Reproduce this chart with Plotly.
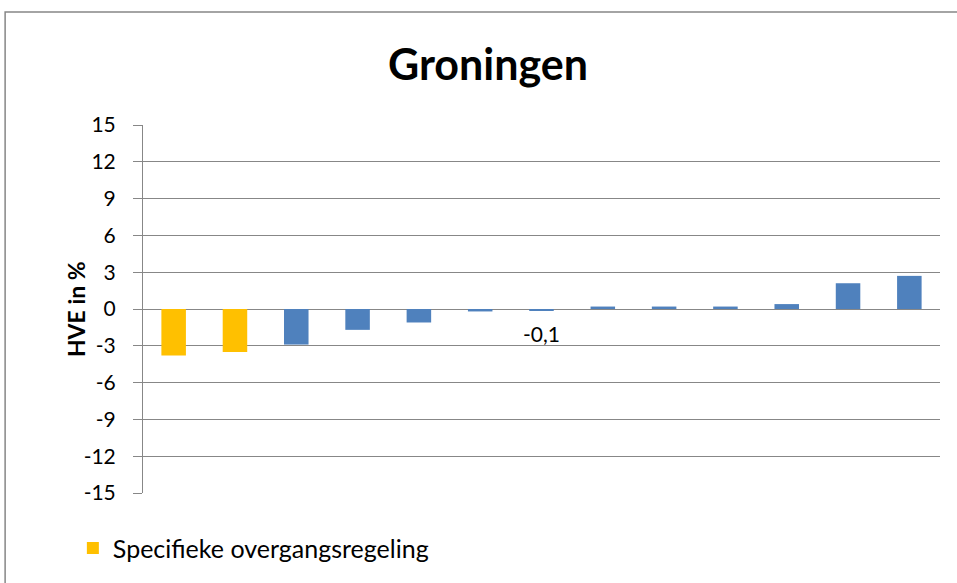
import plotly.graph_objects as go

categories = list(range(1, 14))
values = [-3.8, -3.5, -2.9, -1.7, -1.1, -0.2, -0.1, 0.2, 0.2, 0.2, 0.4, 2.1, 2.7]
special = [True, True] + [False] * 11
series_name = "Specifieke overgangsregeling"
label_index = 6
y_ticks = [-15, -12, -9, -6, -3, 0, 3, 6, 9, 12, 15]

orange_vals = [v if s else None for v, s in zip(values, special)]
blue_vals = [None if s else v for v, s in zip(values, special)]

FONT = "Lato"
GRID = "#878787"

fig = go.Figure()
fig.add_trace(go.Bar(x=categories, y=orange_vals, name=series_name,
                     marker=dict(color="#FFC000", line=dict(width=0)), showlegend=True))
fig.add_trace(go.Bar(x=categories, y=blue_vals, name="overig",
                     marker=dict(color="#4F81BD", line=dict(width=0)), showlegend=False))

lab_val = values[label_index]
fig.add_annotation(x=categories[label_index], y=lab_val, xref="x", yref="y",
                   text=f"{lab_val:.1f}".replace(".", ","), showarrow=False,
                   yshift=-23, font=dict(family=FONT, size=21, color="#000"))

fig.add_annotation(x=-0.104, y=0.5, xref="paper", yref="paper", text="<b>HVE in %</b>",
                   textangle=-90, showarrow=False, font=dict(family=FONT, size=23, color="#000"))

# outer chart frame
fig.add_shape(type="rect", xref="paper", yref="paper", x0=-0.173, x1=1.2, y0=-0.5, y1=1.307,
              line=dict(color=GRID, width=1.5), fillcolor="rgba(0,0,0,0)", layer="below")

fig.update_layout(
    width=957, height=583,
    margin=dict(l=143, r=17, t=125, b=90),
    paper_bgcolor="white", plot_bgcolor="white",
    barmode="overlay", bargap=0.6,
    title=dict(text="<b>Groningen</b>", x=0.51, xanchor="center", y=0.888, yanchor="middle",
               font=dict(family=FONT, size=43, color="#000")),
    font=dict(family=FONT, color="#000"),
    legend=dict(x=-0.088, y=-0.15, xanchor="left", yanchor="middle", orientation="h",
                font=dict(family=FONT, size=25, color="#000"), bgcolor="rgba(0,0,0,0)"),
    xaxis=dict(range=[0.5, 13.5], showticklabels=False, showgrid=False, zeroline=False,
               showline=False, ticks=""),
    yaxis=dict(range=[-15, 15], tickvals=y_ticks, ticktext=[str(t) for t in y_ticks],
               showgrid=True, gridcolor=GRID, gridwidth=1, zeroline=True,
               zerolinecolor=GRID, zerolinewidth=1, showline=True, linecolor=GRID,
               linewidth=1, ticks="outside", ticklen=9, tickcolor=GRID,
               ticklabelstandoff=13, tickfont=dict(family=FONT, size=21, color="#000")),
)

fig.write_html("out.html", config={"displayModeBar": False},
               post_script="document.body.style.margin='0';")
